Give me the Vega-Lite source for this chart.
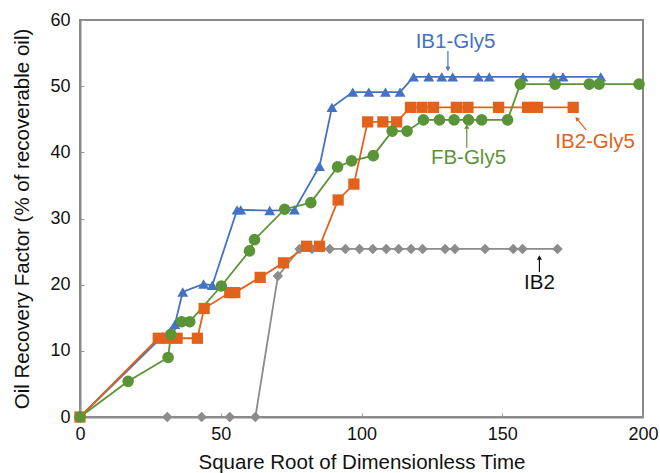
{
  "$schema": "https://vega.github.io/schema/vega-lite/v6.json",
  "width": 563,
  "height": 397,
  "autosize": {"type": "none"},
  "padding": {"left": 80, "top": 20, "right": 17, "bottom": 56},
  "background": "white",
  "config": {
    "font": "Liberation Sans",
    "view": {"stroke": "#8a8a8a", "strokeWidth": 2},
    "axis": {
      "grid": false,
      "domainColor": "#8a8a8a",
      "domainWidth": 2,
      "tickColor": "#9a9a9a",
      "tickSize": -4,
      "labelFlush": false,
      "labelFont": "Liberation Sans",
      "titleFont": "Liberation Sans",
      "labelFontSize": 18,
      "titleFontSize": 20.5,
      "labelColor": "#111",
      "titleColor": "#111",
      "titleFontWeight": "normal"
    }
  },
  "datasets": {
    "series": [
      {"s": "IB2", "x": 0, "y": 0}, {"s": "IB2", "x": 31, "y": 0}, {"s": "IB2", "x": 43.2, "y": 0}, {"s": "IB2", "x": 53.2, "y": 0}, {"s": "IB2", "x": 62.3, "y": 0}, {"s": "IB2", "x": 70.3, "y": 21.3}, {"s": "IB2", "x": 78, "y": 25.4}, {"s": "IB2", "x": 82.4, "y": 25.4}, {"s": "IB2", "x": 88.7, "y": 25.4}, {"s": "IB2", "x": 94.3, "y": 25.4}, {"s": "IB2", "x": 99.3, "y": 25.4}, {"s": "IB2", "x": 104, "y": 25.4}, {"s": "IB2", "x": 108.8, "y": 25.4}, {"s": "IB2", "x": 113.2, "y": 25.4}, {"s": "IB2", "x": 117.6, "y": 25.4}, {"s": "IB2", "x": 121.7, "y": 25.4}, {"s": "IB2", "x": 129.7, "y": 25.4}, {"s": "IB2", "x": 133.2, "y": 25.4}, {"s": "IB2", "x": 143.9, "y": 25.4}, {"s": "IB2", "x": 153.9, "y": 25.4}, {"s": "IB2", "x": 157.2, "y": 25.4}, {"s": "IB2", "x": 169.6, "y": 25.4},
      {"s": "IB1-Gly5", "x": 0, "y": 0}, {"s": "IB1-Gly5", "x": 33.7, "y": 14.0}, {"s": "IB1-Gly5", "x": 36.5, "y": 18.9}, {"s": "IB1-Gly5", "x": 43.9, "y": 20.1}, {"s": "IB1-Gly5", "x": 47.0, "y": 19.9}, {"s": "IB1-Gly5", "x": 55.8, "y": 31.3}, {"s": "IB1-Gly5", "x": 57.1, "y": 31.3}, {"s": "IB1-Gly5", "x": 67.4, "y": 31.2}, {"s": "IB1-Gly5", "x": 76.2, "y": 31.3}, {"s": "IB1-Gly5", "x": 85.1, "y": 37.9}, {"s": "IB1-Gly5", "x": 89.5, "y": 46.8}, {"s": "IB1-Gly5", "x": 96.9, "y": 49.1}, {"s": "IB1-Gly5", "x": 102.6, "y": 49.1}, {"s": "IB1-Gly5", "x": 108.5, "y": 49.1}, {"s": "IB1-Gly5", "x": 113.7, "y": 49.1}, {"s": "IB1-Gly5", "x": 118.5, "y": 51.4}, {"s": "IB1-Gly5", "x": 123.9, "y": 51.4}, {"s": "IB1-Gly5", "x": 128.5, "y": 51.4}, {"s": "IB1-Gly5", "x": 132.4, "y": 51.4}, {"s": "IB1-Gly5", "x": 141.5, "y": 51.4}, {"s": "IB1-Gly5", "x": 145.4, "y": 51.4}, {"s": "IB1-Gly5", "x": 157.4, "y": 51.4}, {"s": "IB1-Gly5", "x": 168.2, "y": 51.4}, {"s": "IB1-Gly5", "x": 171.6, "y": 51.4}, {"s": "IB1-Gly5", "x": 185.0, "y": 51.4},
      {"s": "IB2-Gly5", "x": 0, "y": 0}, {"s": "IB2-Gly5", "x": 27.8, "y": 11.9}, {"s": "IB2-Gly5", "x": 31, "y": 11.9}, {"s": "IB2-Gly5", "x": 34.5, "y": 11.9}, {"s": "IB2-Gly5", "x": 41.7, "y": 11.9}, {"s": "IB2-Gly5", "x": 44.1, "y": 16.4}, {"s": "IB2-Gly5", "x": 53.2, "y": 18.8}, {"s": "IB2-Gly5", "x": 55, "y": 18.8}, {"s": "IB2-Gly5", "x": 64, "y": 21.1}, {"s": "IB2-Gly5", "x": 72.3, "y": 23.3}, {"s": "IB2-Gly5", "x": 80.5, "y": 25.8}, {"s": "IB2-Gly5", "x": 85.1, "y": 25.8}, {"s": "IB2-Gly5", "x": 91.7, "y": 32.8}, {"s": "IB2-Gly5", "x": 97.3, "y": 35.2}, {"s": "IB2-Gly5", "x": 102.2, "y": 44.6}, {"s": "IB2-Gly5", "x": 107.6, "y": 44.6}, {"s": "IB2-Gly5", "x": 112.5, "y": 44.6}, {"s": "IB2-Gly5", "x": 117.4, "y": 46.8}, {"s": "IB2-Gly5", "x": 121.5, "y": 46.8}, {"s": "IB2-Gly5", "x": 125.6, "y": 46.8}, {"s": "IB2-Gly5", "x": 133.7, "y": 46.8}, {"s": "IB2-Gly5", "x": 137.8, "y": 46.8}, {"s": "IB2-Gly5", "x": 148.7, "y": 46.8}, {"s": "IB2-Gly5", "x": 159, "y": 46.8}, {"s": "IB2-Gly5", "x": 162.5, "y": 46.8}, {"s": "IB2-Gly5", "x": 175.2, "y": 46.8},
      {"s": "FB-Gly5", "x": 0, "y": 0}, {"s": "FB-Gly5", "x": 17.1, "y": 5.4}, {"s": "FB-Gly5", "x": 31.3, "y": 9.0}, {"s": "FB-Gly5", "x": 32.3, "y": 12.5}, {"s": "FB-Gly5", "x": 36.1, "y": 14.4}, {"s": "FB-Gly5", "x": 39, "y": 14.4}, {"s": "FB-Gly5", "x": 50.2, "y": 19.8}, {"s": "FB-Gly5", "x": 60.2, "y": 25.1}, {"s": "FB-Gly5", "x": 62, "y": 26.8}, {"s": "FB-Gly5", "x": 72.7, "y": 31.4}, {"s": "FB-Gly5", "x": 82, "y": 32.4}, {"s": "FB-Gly5", "x": 91.5, "y": 37.8}, {"s": "FB-Gly5", "x": 96.5, "y": 38.7}, {"s": "FB-Gly5", "x": 104.2, "y": 39.5}, {"s": "FB-Gly5", "x": 110.9, "y": 43.2}, {"s": "FB-Gly5", "x": 116.2, "y": 43.2}, {"s": "FB-Gly5", "x": 122, "y": 44.9}, {"s": "FB-Gly5", "x": 127.7, "y": 44.9}, {"s": "FB-Gly5", "x": 132.9, "y": 44.9}, {"s": "FB-Gly5", "x": 138, "y": 44.9}, {"s": "FB-Gly5", "x": 142.7, "y": 44.9}, {"s": "FB-Gly5", "x": 151.9, "y": 44.9}, {"s": "FB-Gly5", "x": 156.4, "y": 50.3}, {"s": "FB-Gly5", "x": 168.8, "y": 50.3}, {"s": "FB-Gly5", "x": 180.9, "y": 50.3}, {"s": "FB-Gly5", "x": 184.4, "y": 50.3}, {"s": "FB-Gly5", "x": 198.6, "y": 50.3}
    ],
    "labels": [
      {"s": "IB1-Gly5", "label": "IB1-Gly5", "tx": 133.4, "ty": 56.7, "x1": 130.7, "y1": 55.3, "x2": 130.7, "y2": 52.6},
      {"s": "FB-Gly5", "label": "FB-Gly5", "tx": 138.0, "ty": 39.2, "x1": 137.4, "y1": 40.7, "x2": 137.4, "y2": 43.9},
      {"s": "IB2-Gly5", "label": "IB2-Gly5", "tx": 183.0, "ty": 41.5, "x1": 179.8, "y1": 43.4, "x2": 176.5, "y2": 45.1},
      {"s": "IB2", "label": "IB2", "tx": 163.2, "ty": 20.2, "x1": 163.2, "y1": 21.9, "x2": 163.2, "y2": 24.1}
    ]
  },
  "layer": [
    {
      "data": {"name": "series"},
      "mark": {"type": "line", "strokeWidth": 1.8},
      "encoding": {
        "x": {"field": "x", "type": "quantitative", "scale": {"domain": [0, 200], "nice": false}, "axis": {"values": [0, 50, 100, 150, 200], "title": "Square Root of Dimensionless Time", "labelPadding": 12, "titlePadding": 9}},
        "y": {"field": "y", "type": "quantitative", "scale": {"domain": [0, 60], "nice": false}, "axis": {"values": [0, 10, 20, 30, 40, 50, 60], "title": "Oil Recovery Factor (% of recoverable oil)", "labelPadding": 14, "titlePadding": 17}},
        "color": {"field": "s", "type": "nominal", "legend": null, "scale": {"domain": ["IB2", "IB1-Gly5", "IB2-Gly5", "FB-Gly5"], "range": ["#8c8c8c", "#4472c4", "#e2621b", "#5b9437"]}},
        "detail": {"field": "s"}
      }
    },
    {
      "data": {"name": "series"},
      "mark": {"type": "point", "filled": true, "opacity": 1},
      "encoding": {
        "x": {"field": "x", "type": "quantitative"},
        "y": {"field": "y", "type": "quantitative"},
        "color": {"field": "s", "type": "nominal", "legend": null},
        "shape": {"field": "s", "type": "nominal", "legend": null, "scale": {"domain": ["IB2", "IB1-Gly5", "IB2-Gly5", "FB-Gly5"], "range": ["diamond", "triangle-up", "square", "circle"]}},
        "size": {"field": "s", "type": "nominal", "legend": null, "scale": {"domain": ["IB2", "IB1-Gly5", "IB2-Gly5", "FB-Gly5"], "range": [110, 135, 95, 110]}}
      }
    },
    {
      "data": {"name": "labels"},
      "mark": {"type": "text", "fontSize": 20.5, "font": "Liberation Sans"},
      "encoding": {
        "x": {"field": "tx", "type": "quantitative"},
        "y": {"field": "ty", "type": "quantitative"},
        "text": {"field": "label"},
        "color": {"condition": {"test": "datum.s === 'IB2'", "value": "#111111"}, "field": "s", "type": "nominal", "legend": null}
      }
    },
    {
      "data": {"name": "labels"},
      "mark": {"type": "rule", "strokeWidth": 1.2},
      "encoding": {
        "x": {"field": "x1", "type": "quantitative"},
        "y": {"field": "y1", "type": "quantitative"},
        "x2": {"field": "x2"},
        "y2": {"field": "y2"},
        "color": {"condition": {"test": "datum.s === 'IB2'", "value": "#111111"}, "field": "s", "type": "nominal", "legend": null}
      }
    },
    {
      "data": {"name": "labels"},
      "transform": [{"filter": "datum.s === 'IB1-Gly5'"}],
      "mark": {"type": "point", "shape": "triangle-down", "filled": true, "size": 25, "opacity": 1},
      "encoding": {
        "x": {"field": "x2", "type": "quantitative"},
        "y": {"field": "y2", "type": "quantitative"},
        "color": {"field": "s", "type": "nominal", "legend": null}
      }
    },
    {
      "data": {"name": "labels"},
      "transform": [{"filter": "datum.s === 'FB-Gly5' || datum.s === 'IB2'"}],
      "mark": {"type": "point", "shape": "triangle-up", "filled": true, "size": 25, "opacity": 1},
      "encoding": {
        "x": {"field": "x2", "type": "quantitative"},
        "y": {"field": "y2", "type": "quantitative"},
        "color": {"condition": {"test": "datum.s === 'IB2'", "value": "#111111"}, "field": "s", "type": "nominal", "legend": null}
      }
    },
    {
      "data": {"name": "labels"},
      "transform": [{"filter": "datum.s === 'IB2-Gly5'"}],
      "mark": {"type": "point", "shape": "triangle-up", "filled": true, "size": 25, "opacity": 1, "angle": 320},
      "encoding": {
        "x": {"field": "x2", "type": "quantitative"},
        "y": {"field": "y2", "type": "quantitative"},
        "color": {"field": "s", "type": "nominal", "legend": null}
      }
    }
  ]
}
